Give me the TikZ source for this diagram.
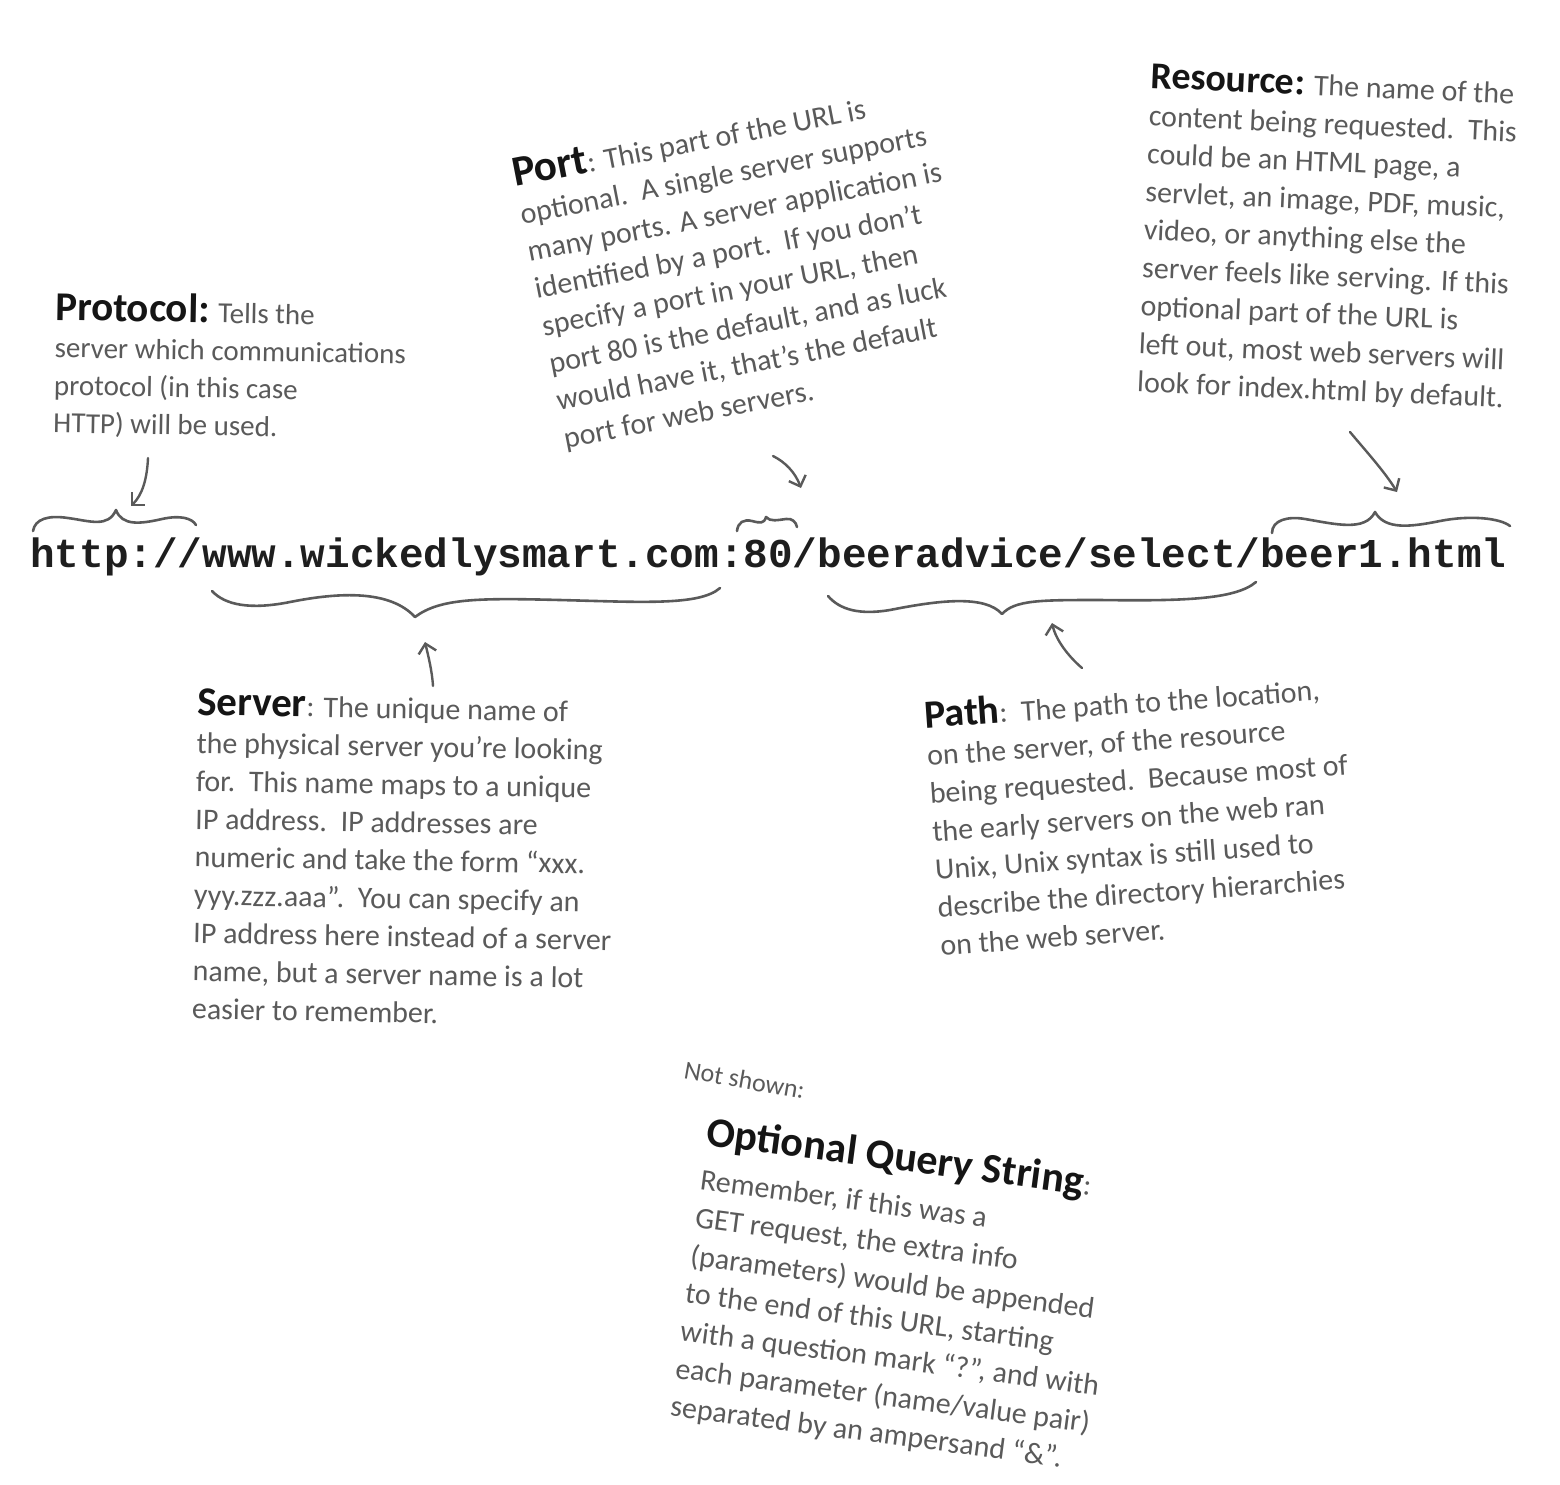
\documentclass[tikz,border=0pt]{standalone}
\usepackage{fontspec}
\setmainfont{Carlito}
\setmonofont{Liberation Mono}
\usetikzlibrary{arrows.meta}
\definecolor{ink}{HTML}{5A5A5A}
\definecolor{hdr}{HTML}{151515}
\definecolor{urlc}{HTML}{1E1E1E}
\newcommand\hd[2][40]{{\fontsize{#1}{38}\selectfont\bfseries\color{hdr}#2}}
\tikzset{
  blk/.style={inner sep=0pt, anchor=base west, text=ink, font=\fontsize{30}{38}\selectfont},
  brace/.style={draw=ink, line width=2.6pt, line cap=round, line join=round},
  arr/.style={draw=ink, line width=2.4pt, line cap=round, line join=round,
    -{Straight Barb[length=9pt,width=18pt]}},
}
\begin{document}
\begin{tikzpicture}[x=1pt,y=-1pt]
\path[use as bounding box] (0,0) rectangle (1560,1484);

% URL
\node[inner sep=0pt, anchor=base west, text=urlc,
  font=\ttfamily\bfseries\fontsize{41}{41}\selectfont] (url) at (30,567)
  {http://www.wickedlysmart.com:80/beeradvice/select/beer1.html};

% text blocks
\node[blk, rotate=-1, font=\fontsize{29}{37.5}\selectfont] (protocol) at (55,320) {\begin{tabular}[t]{@{}l@{}}\hd[41]{Protocol:} Tells the\\
server which communications\\
protocol (in this case\\
HTTP) will be used.\end{tabular}};

\node[blk, rotate=11] (port) at (515,187) {\begin{tabular}[t]{@{}l@{}}\hd[43]{Port}: This part of the URL is\\
optional.\ \ A single server supports\\
many ports. A server application is\\
identified by a port.\ \ If you don’t\\
specify a port in your URL, then\\
port 80 is the default, and as luck\\
would have it, that’s the default\\
port for web servers.\end{tabular}};

\node[blk, rotate=-2.5] (resource) at (1150,88) {\begin{tabular}[t]{@{}l@{}}\hd[38]{Resource:} The name of the\\
content being requested.\ \ This\\
could be an HTML page, a\\
servlet, an image, PDF, music,\\
video, or anything else the\\
server feels like serving. If this\\
optional part of the URL is\\
left out, most web servers will\\
look for index.html by default.\end{tabular}};

\node[blk, rotate=-1] (server) at (197,715) {\begin{tabular}[t]{@{}l@{}}\hd[41]{Server}: The unique name of\\
the physical server you’re looking\\
for.\ \ This name maps to a unique\\
IP address.\ \ IP addresses are\\
numeric and take the form “xxx.\\
yyy.zzz.aaa”.\ \ You can specify an\\
IP address here instead of a server\\
name, but a server name is a lot\\
easier to remember.\end{tabular}};

\node[blk, rotate=4] (path) at (925,728) {\begin{tabular}[t]{@{}l@{}}\hd[40]{Path}:\ \ The path to the location,\\
on the server, of the resource\\
being requested.\ \ Because most of\\
the early servers on the web ran\\
Unix, Unix syntax is still used to\\
describe the directory hierarchies\\
on the web server.\end{tabular}};

\node[blk, rotate=-10, font=\fontsize{26}{30}\selectfont] (notshown) at (683,1078) {Not shown:};

\node[blk, rotate=-7.5] (query) at (705,1145) {\begin{tabular}[t]{@{}l@{}}\hd[42]{Optional Query String}:\\[7pt]
Remember, if this was a\\
GET request, the extra info\\
(parameters) would be appended\\
to the end of this URL, starting\\
with a question mark “?”, and with\\
each parameter (name/value pair)\\
separated by an ampersand “\&”.\end{tabular}};

% braces
\draw[brace] (33,531) .. controls (35,519) and (48,515) .. (68,518)
  .. controls (90,521) and (108,528) .. (116,510)
  .. controls (122,526) and (140,524) .. (162,519)
  .. controls (180,515) and (192,518) .. (196,525);
\draw[brace] (737,531) .. controls (738,522) and (744,519) .. (752,521)
  .. controls (760,523) and (764,524) .. (766,517)
  .. controls (770,522) and (778,520) .. (786,519)
  .. controls (792,518) and (796,522) .. (797,527);
\draw[brace] (1272,533) .. controls (1272,520) and (1288,516) .. (1305,519)
  .. controls (1335,524) and (1365,532) .. (1375,512)
  .. controls (1385,530) and (1410,527) .. (1440,521)
  .. controls (1470,515) and (1500,518) .. (1510,526);
\draw[brace] (212,591) .. controls (225,605) and (250,610) .. (290,602)
  .. controls (340,592) and (390,590) .. (415,617)
  .. controls (440,598) and (480,598) .. (560,600)
  .. controls (640,602) and (700,606) .. (720,588);
\draw[brace] (828,596) .. controls (840,610) and (860,615) .. (890,610)
  .. controls (940,600) and (985,595) .. (1002,614)
  .. controls (1015,600) and (1040,600) .. (1100,600)
  .. controls (1180,601) and (1235,600) .. (1256,582);

% arrows
\coordinate (proA) at (148,458); \coordinate (proB) at (131,506);
\coordinate (porA) at (773,456); \coordinate (porB) at (801,488);
\coordinate (resA) at (1350,432); \coordinate (resB) at (1397,492);
\coordinate (serA) at (433,686); \coordinate (serB) at (425,642);
\coordinate (patA) at (1082,668); \coordinate (patB) at (1052,623);
\draw[arr] (proA) .. controls (147,480) and (142,495) .. (proB);
\draw[arr] (porA) .. controls (785,462) and (795,472) .. (porB);
\draw[arr] (resA) .. controls (1365,450) and (1385,472) .. (resB);
\draw[arr] (serA) .. controls (432,670) and (428,655) .. (serB);
\draw[arr] (patA) .. controls (1068,656) and (1056,640) .. (patB);
\end{tikzpicture}
\end{document}
